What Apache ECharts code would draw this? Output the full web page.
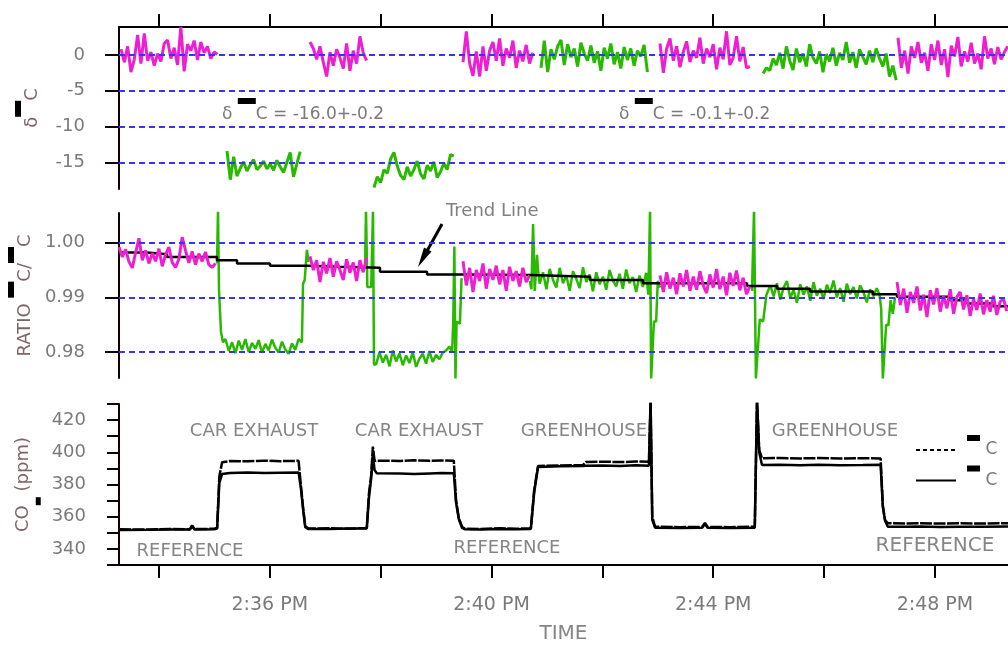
<!DOCTYPE html>
<html><head><meta charset="utf-8">
<script src="https://cdn.jsdelivr.net/npm/echarts@6/dist/echarts.min.js"></script>
<style>html,body{margin:0;padding:0;background:#fff}#c{width:1008px;height:647px}</style>
</head><body><div id="c"></div><script>
// ---------- axis / tick data ----------
const STEP = 0.06;              // sampling interval (minutes after 2:30 PM)
const X_MIN = 3.28, X_MAX = 19.318;
const timeTicks = [4, 6, 8, 10, 12, 14, 16, 18];
const timeLabelValues = [6, 10, 14, 18];
const timeLabels = ['2:36 PM', '2:40 PM', '2:44 PM', '2:48 PM'];
const deltaTicks = [0, -5, -10, -15];
const ratioTicks = [1.00, 0.99, 0.98];
const co2Ticks = [330, 340, 350, 360, 370, 380, 390, 400, 410, 420, 430];
const co2Labels = [340, 360, 380, 400, 420];

// ---------- delta 13C (per mil), magenta = reference, green = sample ----------
const dM1Start = 3.316, dM1 = [0.8, -1.0, 1.2, -2.4, -0.6, 2.8, -1.2, 3.0, -0.8, 0.4, -1.5, 0.2, -0.9, 1.6, 2.1, -0.5, 1.0, -1.4, 3.9, -2.3, 1.5, 0.6, 2.0, -0.7, 1.8, 0.3, 1.2, -0.5, 0.4, 0.1];
const dG1Start = 5.228, dG1 = [-13.4, -17.4, -14.2, -16.9, -15.8, -14.9, -16.2, -15.3, -14.6, -16.0, -15.5, -14.8, -15.9, -15.2, -16.1, -14.7, -15.6, -16.4, -15.0, -13.6, -17.0, -15.2, -13.5];
const dM2Start = 6.726, dM2 = [1.8, 0.9, -0.6, 1.2, -1.0, -3.0, 0.4, -1.5, 0.8, -0.4, -1.9, 1.6, -2.2, 0.6, -1.2, 2.6, 0.3, -0.8];
const dG2Start = 7.880, dG2 = [-18.5, -17.0, -17.8, -16.0, -16.5, -14.5, -13.6, -15.5, -16.8, -17.4, -15.6, -16.9, -16.0, -14.8, -16.6, -17.3, -15.4, -16.2, -14.9, -17.1, -16.3, -15.1, -16.0, -13.9, -14.1];
const dM3Start = 9.486, dM3 = [-1.0, 3.3, -1.2, -2.9, 0.5, -3.0, 1.2, -2.2, 0.6, 1.8, -0.8, 2.3, -1.5, 0.9, -0.4, 2.0, -1.8, 0.6, -0.9, 1.4, -1.2, 0.3];
const dG3Start = 10.893, dG3 = [-1.8, 2.0, -2.4, 0.8, -0.6, 1.2, 2.1, -1.4, 1.5, -0.3, 0.9, -1.6, 1.7, 0.2, -0.8, 1.3, -1.1, 0.5, -2.2, 1.0, -0.5, 1.6, -1.3, 0.4, -1.9, 1.1, -0.7, 0.9, -1.5, 0.6, -0.2, 1.4, -2.4];
const dM4Start = 13.040, dM4 = [1.6, -2.5, 0.9, 2.3, -0.8, 1.2, -1.7, 0.4, 1.9, -1.0, 0.6, -0.4, 2.4, -1.2, 0.9, -0.3, 1.5, -2.0, 1.0, -0.6, 3.3, -1.4, -0.4, 2.6, -0.9, 1.1, -1.8, -1.6];
const dG4Start = 14.900, dG4 = [-2.6, -1.8, -2.2, -0.5, -1.4, 0.3, -1.9, 1.2, -0.8, -2.1, 0.9, -1.0, 0.2, -1.6, 1.5, -0.4, -1.2, 0.5, -2.4, 0.1, -0.9, 1.0, -1.5, 0.3, -0.7, 1.8, -1.1, 0.4, -1.8, 0.8, -0.3, -1.3, 0.6, -1.0, 0.9, -0.5, -1.6, 0.2, -3.0, -1.5, -3.5];
const dM5Start = 17.334, dM5 = [2.4, -1.8, 0.6, -2.6, 1.2, -0.4, 1.8, -1.1, 0.3, -2.2, 1.5, -0.7, 2.0, -1.4, 0.8, -3.1, 1.3, -0.2, 2.5, -1.6, 0.5, -0.9, 1.7, -1.2, 0.2, -2.0, 2.6, -0.5, 0.9, -1.3, 1.1, -0.6, 0.4, 1.2];

// ---------- ratio 13C/12C ----------
const rM1Start = 3.28, rM1 = [0.9992, 0.9974, 0.9988, 0.9965, 0.9954, 0.9982, 1.0008, 0.9968, 0.9986, 0.9962, 0.9981, 0.9966, 0.9989, 0.9957, 0.9978, 0.9992, 0.9964, 0.9955, 0.9970, 1.0010, 0.9986, 0.9963, 0.9984, 0.9960, 0.9980, 0.9966, 0.9983, 0.9960, 0.9955, 0.9962];
const rG1In = [[5.048, 0.9962], [5.066, 1.0060], [5.084, 0.9913], [5.120, 0.9837], [5.156, 0.9818]];
const rG1Start = 5.20, rG1 = [0.9824, 0.9802, 0.9818, 0.9798, 0.9821, 0.9804, 0.9824, 0.9800, 0.9817, 0.9806, 0.9822, 0.9799, 0.9815, 0.9803, 0.9823, 0.9808, 0.9799, 0.9819, 0.9805, 0.9797, 0.9816, 0.9804, 0.9824, 0.9818];
const rG1Out = [[6.60, 0.9925], [6.63, 0.9932], [6.67, 0.9987], [6.70, 0.9965]];
const rM2Start = 6.726, rM2 = [0.9975, 0.9950, 0.9968, 0.9928, 0.9965, 0.9944, 0.9972, 0.9938, 0.9966, 0.9950, 0.9932, 0.9970, 0.9945, 0.9964, 0.9930, 0.9968, 0.9946, 0.9972];
const rG2In = [[7.72, 0.9960], [7.736, 1.0060], [7.76, 0.9919], [7.83, 0.9919], [7.862, 1.0060], [7.88, 0.9777]];
const rG2Start = 7.92, rG2 = [0.9778, 0.9800, 0.9781, 0.9795, 0.9774, 0.9803, 0.9783, 0.9798, 0.9776, 0.9794, 0.9780, 0.9800, 0.9773, 0.9788, 0.9797, 0.9779, 0.9802, 0.9782, 0.9795, 0.9787, 0.9799, 0.9803, 0.9810];
const rG2Out = [[9.29, 0.9800], [9.31, 0.9856], [9.33, 0.9993], [9.35, 0.9752], [9.37, 0.9856], [9.43, 0.9852], [9.46, 0.9935]];
const rM3Start = 9.486, rM3 = [0.9966, 0.9922, 0.9954, 0.9910, 0.9950, 0.9930, 0.9962, 0.9916, 0.9952, 0.9932, 0.9958, 0.9924, 0.9950, 0.9912, 0.9956, 0.9930, 0.9948, 0.9920, 0.9954, 0.9928, 0.9940];
const rG3In = [[10.69, 0.9930], [10.72, 0.9915], [10.75, 1.0034], [10.78, 0.9912], [10.82, 0.9978], [10.84, 0.9950]];
const rG3Start = 10.87, rG3 = [0.9925, 0.9946, 0.9915, 0.9952, 0.9932, 0.9918, 0.9954, 0.9926, 0.9940, 0.9912, 0.9948, 0.9934, 0.9917, 0.9955, 0.9928, 0.9942, 0.9911, 0.9946, 0.9924, 0.9938, 0.9914, 0.9950, 0.9931, 0.9920, 0.9943, 0.9916, 0.9951, 0.9926, 0.9937, 0.9910, 0.9940, 0.9919, 0.9945];
const rG3Out = [[12.83, 0.9905], [12.86, 1.0060], [12.88, 0.9752], [12.91, 0.9752], [12.93, 0.9856], [12.97, 0.9856], [13.00, 0.9930], [13.04, 0.9918]];
const rM4Start = 13.04, rM4 = [0.9940, 0.9910, 0.9946, 0.9916, 0.9936, 0.9906, 0.9944, 0.9920, 0.9950, 0.9912, 0.9938, 0.9914, 0.9948, 0.9922, 0.9908, 0.9942, 0.9918, 0.9952, 0.9915, 0.9938, 0.9904, 0.9945, 0.9921, 0.9949, 0.9913, 0.9936, 0.9906, 0.9920];
const rG4In = [[14.70, 0.9912], [14.736, 1.0060], [14.77, 0.9752], [14.80, 0.9752], [14.84, 0.9860], [14.90, 0.9856], [14.96, 0.9905], [15.00, 0.9915]];
const rG4Start = 15.03, rG4 = [0.9922, 0.9902, 0.9926, 0.9896, 0.9918, 0.9930, 0.9899, 0.9914, 0.9890, 0.9924, 0.9905, 0.9920, 0.9894, 0.9928, 0.9903, 0.9916, 0.9897, 0.9923, 0.9908, 0.9931, 0.9900, 0.9917, 0.9892, 0.9925, 0.9906, 0.9919, 0.9898, 0.9922, 0.9910, 0.9891, 0.9915, 0.9902, 0.9917];
const rG4Out = [[17.00, 0.9905], [17.03, 0.9880], [17.06, 0.9752], [17.09, 0.9752], [17.12, 0.9850], [17.16, 0.9849], [17.20, 0.9895], [17.24, 0.9870], [17.28, 0.9900]];
const rM5Start = 17.316, rM5 = [0.9928, 0.9886, 0.9916, 0.9872, 0.9910, 0.9890, 0.9920, 0.9876, 0.9905, 0.9864, 0.9913, 0.9887, 0.9917, 0.9874, 0.9903, 0.9880, 0.9915, 0.9870, 0.9901, 0.9910, 0.9878, 0.9904, 0.9866, 0.9897, 0.9877, 0.9907, 0.9869, 0.9895, 0.9874, 0.9903, 0.9868, 0.9892, 0.9898, 0.9875];

// trend line (step)
const trendTime = [3.28, 3.785, 4.146, 5.048, 5.409, 6.004, 6.672, 7.267, 7.989, 8.837, 9.486, 10.695, 11.777, 12.733, 14.610, 15.151, 15.746, 16.883, 17.316, 18.272, 18.578, 19.047, 19.318];
const trendValue = [0.9982, 0.9979, 0.9974, 0.9968, 0.9962, 0.9958, 0.9956, 0.9954, 0.9947, 0.9942, 0.9941, 0.9938, 0.9932, 0.9926, 0.9921, 0.9916, 0.9911, 0.9906, 0.9901, 0.9895, 0.9889, 0.9884, 0.9884];

// ---------- CO2 (ppm) ----------
const co2Time = [3.28, 3.84, 4.20, 4.56, 4.60, 4.64, 5.00, 5.05,
  5.09, 5.14, 5.28, 5.60, 5.90, 6.20, 6.52,
  6.56, 6.60, 6.64, 6.70, 7.09, 7.40, 7.75,
  7.79, 7.83, 7.86, 7.89, 7.93, 8.35, 8.60, 8.89, 9.10, 9.32,
  9.36, 9.41, 9.47, 9.52, 9.80, 10.15, 10.45, 10.71,
  10.77, 10.84, 11.24, 11.65, 11.70, 12.00, 12.32, 12.60, 12.84,
  12.87, 12.90, 12.95, 13.40, 13.80, 13.85, 13.90, 14.30, 14.75,
  14.79, 14.83, 14.88, 15.20, 15.57, 15.90, 16.29, 16.70, 17.02,
  17.06, 17.10, 17.15, 17.50, 17.73, 18.10, 18.45, 18.90, 19.32];
const co2Upper = [352.2, 352.0, 352.4, 352.2, 354.6, 352.3, 352.5, 353.0,
  385.0, 393.8, 394.6, 394.4, 394.8, 394.5, 394.7,
  380.0, 366.0, 354.0, 352.6, 352.8, 352.5, 353.0,
  374.7, 386.0, 403.5, 394.6, 394.8, 394.6, 395.0, 394.7, 394.9, 394.8,
  370.4, 359.2, 353.6, 352.6, 352.4, 352.8, 352.5, 352.9,
  376.6, 391.5, 391.8, 392.0, 394.0, 394.2, 393.9, 394.3, 394.1,
  432.0, 360.0, 353.8, 353.5, 353.6, 356.2, 353.6, 353.5, 353.8,
  432.0, 401.4, 396.3, 396.5, 396.2, 396.4, 396.1, 396.3, 396.2,
  367.0, 358.0, 355.9, 355.8, 356.0, 355.7, 355.9, 355.8, 356.0];
const co2Lower = [351.8, 351.9, 352.0, 352.1, 354.2, 352.0, 352.2, 352.6,
  381.0, 386.5, 387.2, 387.4, 387.1, 387.3, 387.5,
  378.0, 365.0, 353.5, 352.3, 352.4, 352.6, 352.7,
  372.0, 384.0, 399.0, 389.0, 387.0, 386.8, 386.5, 386.9, 387.1, 387.0,
  369.0, 358.5, 353.0, 352.2, 352.1, 352.3, 352.2, 352.4,
  375.0, 390.8, 391.3, 391.5, 391.6, 391.8, 391.5, 391.9, 391.7,
  432.0, 358.0, 353.2, 353.0, 353.1, 355.5, 353.1, 353.0, 353.2,
  432.0, 400.0, 392.1, 392.3, 391.9, 392.2, 392.0, 392.1, 392.2,
  366.0, 357.5, 353.8, 353.7, 353.9, 353.6, 353.8, 353.7, 353.9];

// ---------- helpers ----------
function sampled(start, vals) { return vals.map((v, i) => [+(start + i * STEP).toFixed(4), v]); }
function joinSegs(segs) {
  const out = [];
  segs.forEach((s, k) => { if (k > 0) out.push([s[0][0] - 0.002, null]); s.forEach(p => out.push(p)); });
  return out;
}
const FONT = 'DejaVu Sans';
const MAGENTA = '#ee1fd0', GREEN = '#28b900', BLUE = '#3535f2', GREY = '#7a7a7a', AX = '#140000';

const deltaMagenta = joinSegs([sampled(dM1Start, dM1), sampled(dM2Start, dM2), sampled(dM3Start, dM3), sampled(dM4Start, dM4), sampled(dM5Start, dM5)]);
const deltaGreen = joinSegs([sampled(dG1Start, dG1), sampled(dG2Start, dG2), sampled(dG3Start, dG3), sampled(dG4Start, dG4)]);
const ratioMagenta = joinSegs([sampled(rM1Start, rM1), sampled(rM2Start, rM2), sampled(rM3Start, rM3), sampled(rM4Start, rM4), sampled(rM5Start, rM5)]);
const ratioGreen = joinSegs([
  rG1In.concat(sampled(rG1Start, rG1), rG1Out),
  rG2In.concat(sampled(rG2Start, rG2), rG2Out),
  rG3In.concat(sampled(rG3Start, rG3), rG3Out),
  rG4In.concat(sampled(rG4Start, rG4), rG4Out)]);
const trendData = trendTime.map((t, i) => [t, trendValue[i]]);
const upperData = co2Time.map((t, i) => [t, co2Upper[i]]);
const lowerData = co2Time.map((t, i) => [t, co2Lower[i]]);

const nameRich = {
  n: { fontSize: 18, lineHeight: 34, color: '#7d6565', fontFamily: FONT },
  s: { width: 16, height: 6, lineHeight: 6, fontSize: 5, backgroundColor: '#000', color: '#000', verticalAlign: 'top' },
  b: { width: 8, height: 5, lineHeight: 5, fontSize: 4, backgroundColor: '#000', color: '#000', verticalAlign: 'bottom' }
};
const labelStyle = { color: GREY, fontSize: 18, fontFamily: FONT };
const xBase = { type: 'value', min: X_MIN, max: X_MAX, splitLine: { show: false } };
const yCommon = {
  type: 'value', splitLine: { show: false },
  axisLine: { show: true, onZero: false, lineStyle: { color: AX, width: 2 } },
  nameLocation: 'middle', nameRotate: 90
};
const gridLineStyle = { color: BLUE, type: [6, 4], width: 2 };
function gridHelper(xi, vals) {
  return { type: 'line', xAxisIndex: xi, yAxisIndex: xi, data: [], z: 1, silent: true, symbol: 'none',
    markLine: { silent: true, symbol: ['none', 'none'], label: { show: false }, lineStyle: gridLineStyle,
      emphasis: { disabled: true }, data: vals.map(v => ({ yAxis: v })) } };
}

const annRich = {
  n: { fontSize: 17, lineHeight: 34, fill: GREY, fontFamily: FONT },
  s: { width: 18, height: 6, lineHeight: 6, fontSize: 5, backgroundColor: '#000', fill: '#000', verticalAlign: 'top' }
};
function label(text, x, y, size) {
  return { type: 'text', x: x, y: y, silent: true,
    style: { text: text, fill: '#858585', fontSize: size, fontFamily: FONT, align: 'center', verticalAlign: 'middle' } };
}

const chart = echarts.init(document.getElementById('c'), null, { renderer: 'canvas' });
chart.setOption({
  animation: false,
  backgroundColor: '#fff',
  textStyle: { fontFamily: FONT },
  grid: [
    { left: 119, right: 0, top: 27, height: 162, containLabel: false, outerBoundsMode: 'none' },
    { left: 119, right: 0, top: 213, height: 165, containLabel: false, outerBoundsMode: 'none' },
    { left: 119, right: 0, top: 404, height: 161, containLabel: false, outerBoundsMode: 'none' }
  ],
  xAxis: [
    Object.assign({}, xBase, { gridIndex: 0, position: 'top',
      axisLine: { show: true, onZero: false, lineStyle: { color: '#000', width: 2 } },
      axisTick: { show: true, length: 13, lineStyle: { color: '#000', width: 2 }, customValues: timeTicks },
      axisLabel: { show: false } }),
    Object.assign({}, xBase, { gridIndex: 1, show: false }),
    Object.assign({}, xBase, { gridIndex: 2, position: 'bottom',
      axisLine: { show: true, onZero: false, lineStyle: { color: '#000', width: 2 } },
      axisTick: { show: true, length: 13, lineStyle: { color: '#000', width: 2 }, customValues: timeTicks },
      axisLabel: { customValues: timeLabelValues, margin: 31, fontSize: 19, color: GREY, fontFamily: FONT,
        formatter: v => timeLabels[timeLabelValues.indexOf(v)] },
      name: 'TIME', nameLocation: 'middle', nameGap: 59,
      nameTextStyle: { color: '#858585', fontSize: 20, fontFamily: FONT } })
  ],
  yAxis: [
    Object.assign({}, yCommon, { gridIndex: 0, min: -18.7, max: 3.9,
      axisTick: { show: true, length: 14, lineStyle: { color: AX, width: 2 }, customValues: deltaTicks },
      axisLabel: Object.assign({ customValues: deltaTicks, margin: 34 }, labelStyle),
      name: '{n|δ}{s|13}{n|C}', nameGap: 70, nameTextStyle: { rich: nameRich } }),
    Object.assign({}, yCommon, { gridIndex: 1, min: 0.97527, max: 1.00543,
      axisTick: { show: true, length: 14, lineStyle: { color: AX, width: 2 }, customValues: ratioTicks },
      axisLabel: Object.assign({ customValues: ratioTicks, margin: 34, formatter: v => v.toFixed(2) }, labelStyle),
      name: '{n|RATIO }{s|13}{n|C/}{s|12}{n|C}', nameGap: 77, nameTextStyle: { rich: nameRich } }),
    Object.assign({}, yCommon, { gridIndex: 2, min: 330, max: 430,
      axisTick: { show: true, length: 12, lineStyle: { color: AX, width: 2 }, customValues: co2Ticks },
      axisLabel: Object.assign({ customValues: co2Labels, margin: 33 }, labelStyle),
      name: '{n|CO}{b|2}{n| (ppm)}', nameGap: 75, nameTextStyle: { rich: nameRich } })
  ],
  legend: {
    data: [{ name: '¹²C', lineStyle: { type: [4, 3] } }, { name: '¹³C' }],
    orient: 'vertical', left: 910, top: 430, itemWidth: 40, itemHeight: 14, itemGap: 7,
    selectedMode: false,
    itemStyle: { opacity: 0, borderWidth: 0 },
    formatter: n => n === '¹²C' ? '{sp| }{s|12}{n| C}' : '{sp| }{s|13}{n| C}',
    textStyle: { rich: {
      sp: { width: 6 },
      s: { width: 13, height: 6, lineHeight: 6, fontSize: 5, backgroundColor: '#000', color: '#000', verticalAlign: 'top' },
      n: { fontSize: 17, lineHeight: 30, color: GREY, fontFamily: FONT } } }
  },
  series: [
    gridHelper(0, deltaTicks),
    { name: 'δ sample', type: 'line', xAxisIndex: 0, yAxisIndex: 0, data: deltaGreen, symbol: 'none', z: 2,
      lineStyle: { color: GREEN, width: 3 }, itemStyle: { color: GREEN } },
    { name: 'δ reference', type: 'line', xAxisIndex: 0, yAxisIndex: 0, data: deltaMagenta, symbol: 'none', z: 3,
      lineStyle: { color: MAGENTA, width: 3 }, itemStyle: { color: MAGENTA } },
    gridHelper(1, ratioTicks),
    { name: 'ratio sample', type: 'line', xAxisIndex: 1, yAxisIndex: 1, data: ratioGreen, symbol: 'none', z: 2,
      lineStyle: { color: GREEN, width: 2.5 }, itemStyle: { color: GREEN } },
    { name: 'Trend Line', type: 'line', step: 'end', xAxisIndex: 1, yAxisIndex: 1, data: trendData, symbol: 'none', z: 3,
      lineStyle: { color: '#000', width: 2.5 }, itemStyle: { color: '#000' } },
    { name: 'ratio reference', type: 'line', xAxisIndex: 1, yAxisIndex: 1, data: ratioMagenta, symbol: 'none', z: 4,
      lineStyle: { color: MAGENTA, width: 3 }, itemStyle: { color: MAGENTA } },
    { name: '¹²C', type: 'line', xAxisIndex: 2, yAxisIndex: 2, data: upperData, symbol: 'none', z: 3,
      lineStyle: { color: '#000', width: 2.5, type: [12, 1.5] }, itemStyle: { color: '#000' } },
    { name: '¹³C', type: 'line', xAxisIndex: 2, yAxisIndex: 2, data: lowerData, symbol: 'none', z: 3,
      lineStyle: { color: '#000', width: 2.5 }, itemStyle: { color: '#000' } }
  ],
  graphic: [
    { type: 'text', x: 222, y: 98, silent: true, style: { text: '{n|δ }{s|13}{n|C = -16.0+-0.2}', rich: annRich, verticalAlign: 'top' } },
    { type: 'text', x: 619, y: 98, silent: true, style: { text: '{n|δ }{s|13}{n|C = -0.1+-0.2}', rich: annRich, verticalAlign: 'top' } },
    { type: 'text', x: 446, y: 211, silent: true, style: { text: 'Trend Line', fill: '#808080', fontSize: 18, fontFamily: FONT, verticalAlign: 'middle' } },
    { type: 'line', silent: true, shape: { x1: 442, y1: 224, x2: 427, y2: 251 }, style: { stroke: '#000', lineWidth: 3 } },
    { type: 'polygon', silent: true, shape: { points: [[418, 267], [431.5, 251.5], [424, 247.5]] }, style: { fill: '#000' } },
    label('CAR EXHAUST', 254, 431, 18),
    label('CAR EXHAUST', 419, 431, 18),
    label('GREENHOUSE', 584, 431, 18),
    label('GREENHOUSE', 835, 431, 18),
    label('REFERENCE', 190, 551, 18),
    label('REFERENCE', 507, 548, 18),
    label('REFERENCE', 935, 546, 20)
  ]
});
</script></body></html>
